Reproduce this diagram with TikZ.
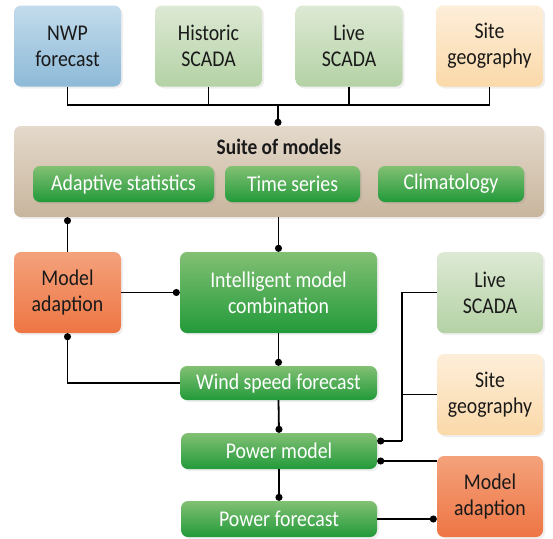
\documentclass[tikz,border=0pt]{standalone}
\usepackage{fontspec}
\setmainfont{Carlito}[FakeStretch=0.88]
\usetikzlibrary{arrows.meta,shadows}
\definecolor{blueT}{HTML}{C3DBEC}\definecolor{blueB}{HTML}{8DBAD8}
\definecolor{lgT}{HTML}{DDE9D4}\definecolor{lgB}{HTML}{B4D2A5}
\definecolor{loT}{HTML}{FDEED9}\definecolor{loB}{HTML}{FBD9A9}
\definecolor{tanT}{HTML}{E4D9CB}\definecolor{tanB}{HTML}{C8B59D}
\definecolor{grT}{HTML}{82C074}\definecolor{grB}{HTML}{229A3A}
\definecolor{orT}{HTML}{F4A27C}\definecolor{orB}{HTML}{EE7543}
\definecolor{txt}{HTML}{1A1A1A}
\tikzset{
  box/.style={rounded corners=7pt, align=center, inner sep=0pt, text=txt,
    font=\fontsize{22.5}{26}\selectfont,
    drop shadow={opacity=0.12, shadow xshift=2pt, shadow yshift=-2pt}},
  bigbox/.style={box, minimum width=107pt, minimum height=81pt},
  nwpbox/.style={bigbox, top color=blueT, bottom color=blueB},
  scadabox/.style={bigbox, top color=lgT, bottom color=lgB},
  sitebox/.style={bigbox, top color=loT, bottom color=loB},
  adaptbox/.style={bigbox, top color=orT, bottom color=orB},
  greenbox/.style={box, top color=grT, bottom color=grB, text=white},
  subbox/.style={greenbox, minimum height=36pt, drop shadow={opacity=0.08, shadow xshift=1pt, shadow yshift=-1pt}},
  suitebox/.style={box, top color=tanT, bottom color=tanB},
  conn/.style={line width=1.8pt, black},
  dotend/.style={conn, -{Circle[length=7pt,width=7pt]}},
  dotstart/.style={conn, {Circle[length=7pt,width=7pt]}-},
}
\begin{document}
\begin{tikzpicture}[x=1pt,y=-1pt]
\useasboundingbox[fill=white] (0,0) rectangle (553,538);
% top row
\node[nwpbox] (nwp) at (67.5,46) {NWP\\forecast};
\node[scadabox] (hist) at (208.5,46) {Historic\\SCADA};
\node[scadabox] (live1) at (349,46) {Live\\SCADA};
\node[sitebox] (site1) at (489.5,46) {Site\\geography};
% suite
\node[suitebox, minimum width=530pt, minimum height=91pt] (suite) at (279,171.5) {};
\node[font=\bfseries\fontsize{22}{24}\selectfont, text=txt] (suitetitle) at (279,147) {Suite of models};
\node[subbox, minimum width=181pt] (adapt) at (123.5,184) {Adaptive statistics};
\node[subbox, minimum width=135pt] (ts) at (292.5,184) {Time series};
\node[subbox, minimum width=146pt] (clim) at (451,184) {Climatology};
% middle
\node[adaptbox] (ma1) at (67.5,292.5) {Model\\adaption};
\node[greenbox, minimum width=197pt, minimum height=81pt] (imc) at (278.5,292.5) {Intelligent model\\combination};
\node[greenbox, minimum width=197pt, minimum height=34pt] (wsf) at (278.5,383) {Wind speed forecast};
\node[greenbox, minimum width=196pt, minimum height=36pt] (pm) at (279,451) {Power model};
\node[greenbox, minimum width=196pt, minimum height=36pt] (pf) at (279,519) {Power forecast};
% right column
\node[scadabox, minimum width=106pt] (live2) at (490,292.5) {Live\\SCADA};
\node[sitebox, minimum width=106pt] (site2) at (490,394.5) {Site\\geography};
\node[adaptbox, minimum width=106pt] (ma2) at (490,496.5) {Model\\adaption};
% connectors top
\coordinate (bus) at (278,105);
\draw[conn] (nwp.south) |- (bus);
\draw[conn] (site1.south) |- (bus);
\draw[conn] (hist.south) -- (hist.south |- bus);
\draw[conn] (live1.south) -- (live1.south |- bus);
\draw[dotend] (bus) -- (bus |- suite.north);
% suite to middle
\draw[dotstart] (ma1.north |- suite.south) -- (ma1.north);
\draw[dotend] (imc.north |- suite.south) -- (imc.north);
\draw[dotend] (ma1.east) -- (imc.west);
\draw[dotend] (imc.south) -- (wsf.north);
\draw[dotstart] (ma1.south) |- (wsf.west);
\draw[dotend] (wsf.south) -- (pm.north);
\draw[dotend] (pm.south) -- (pf.north);
% right side
\coordinate (vj) at (402,441);
\draw[conn] (live2.west) -| (vj);
\draw[conn] (site2.west) -- (site2.west -| vj);
\draw[dotend] (vj) -- (vj -| pm.east);
\coordinate (mj) at (437,461);
\draw[dotstart] (mj -| pm.east) -- (mj);
\draw[dotend] (pf.east) -- (pf.east -| ma2.west);
\end{tikzpicture}
\end{document}
